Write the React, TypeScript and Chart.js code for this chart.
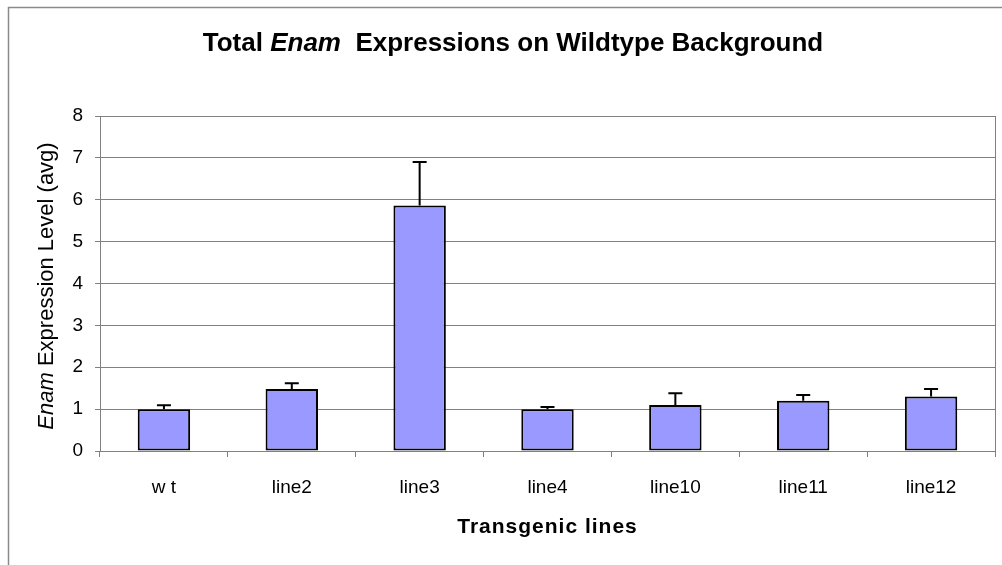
import React, { useEffect, useRef } from "react";
import { Chart, registerables } from "chart.js";

Chart.register(...registerables);

const categories = ["w t", "line2", "line3", "line4", "line10", "line11", "line12"];
const values = [1.0, 1.48, 5.86, 1.0, 1.1, 1.2, 1.3];
const errors = [0.09, 0.14, 1.04, 0.05, 0.28, 0.14, 0.18];
const yTicks = [0, 1, 2, 3, 4, 5, 6, 7, 8];

const FONT = "'Liberation Sans', Arial, sans-serif";

const decorPlugin = {
  id: "decor",
  beforeDraw(chart: any) {
    const ctx = chart.ctx;
    ctx.save();
    ctx.fillStyle = "#ffffff";
    ctx.fillRect(0, 0, chart.width, chart.height);
    ctx.strokeStyle = "#8a8a8a";
    ctx.lineWidth = 1.5;
    ctx.beginPath();
    ctx.moveTo(8.5, chart.height);
    ctx.lineTo(8.5, 7.5);
    ctx.lineTo(chart.width, 7.5);
    ctx.stroke();
    ctx.restore();
  },
  afterDatasetsDraw(chart: any) {
    const ctx = chart.ctx;
    const area = chart.chartArea;
    const meta = chart.getDatasetMeta(0);
    const yScale = chart.scales.y;
    ctx.save();
    // plot right border
    ctx.strokeStyle = "#808080";
    ctx.lineWidth = 1;
    ctx.beginPath();
    ctx.moveTo(Math.round(area.right) + 0.5, area.top);
    ctx.lineTo(Math.round(area.right) + 0.5, area.bottom);
    ctx.stroke();
    // error bars
    ctx.strokeStyle = "#000000";
    ctx.lineWidth = 2;
    meta.data.forEach((bar: any, i: number) => {
      const x = bar.x;
      const y0 = yScale.getPixelForValue(values[i]);
      const y1 = yScale.getPixelForValue(values[i] + errors[i]);
      ctx.beginPath();
      ctx.moveTo(x, y0);
      ctx.lineTo(x, y1);
      ctx.moveTo(x - 7, y1);
      ctx.lineTo(x + 7, y1);
      ctx.stroke();
    });
    ctx.restore();
  },
  afterDraw(chart: any) {
    const ctx = chart.ctx;
    const area = chart.chartArea;
    ctx.save();
    ctx.fillStyle = "#000000";
    // title
    const parts = [
      { t: "Total ", f: `bold 26px ${FONT}` },
      { t: "Enam", f: `italic bold 26px ${FONT}` },
      { t: "  Expressions on Wildtype Background", f: `bold 26px ${FONT}` },
    ];
    let total = 0;
    parts.forEach((p) => {
      ctx.font = p.f;
      total += ctx.measureText(p.t).width;
    });
    let x = 513 - total / 2;
    ctx.textBaseline = "alphabetic";
    ctx.textAlign = "left";
    parts.forEach((p) => {
      ctx.font = p.f;
      ctx.fillText(p.t, x, 51);
      x += ctx.measureText(p.t).width;
    });
    // x axis title
    ctx.font = `bold 21px ${FONT}`;
    (ctx as any).letterSpacing = "1px";
    ctx.textAlign = "center";
    ctx.fillText("Transgenic lines", (area.left + area.right) / 2, 533);
    (ctx as any).letterSpacing = "0px";
    // y axis title
    const yparts = [
      { t: "Enam", f: `italic 22px ${FONT}` },
      { t: " Expression Level (avg)", f: `22px ${FONT}` },
    ];
    let ytotal = 0;
    yparts.forEach((p) => {
      ctx.font = p.f;
      ytotal += ctx.measureText(p.t).width;
    });
    ctx.translate(53, 286);
    ctx.rotate(-Math.PI / 2);
    ctx.textAlign = "left";
    let yx = -ytotal / 2;
    yparts.forEach((p) => {
      ctx.font = p.f;
      ctx.fillText(p.t, yx, 0);
      yx += ctx.measureText(p.t).width;
    });
    ctx.restore();
  },
};

export default function App() {
  const ref = useRef<HTMLCanvasElement | null>(null);
  useEffect(() => {
    if (!ref.current) return;
    const chart = new Chart(ref.current, {
      type: "bar",
      data: {
        labels: categories,
        datasets: [
          {
            data: values,
            backgroundColor: "#9999ff",
            borderColor: "#000000",
            borderWidth: 2,
            borderSkipped: false,
            barPercentage: 0.41,
            categoryPercentage: 1,
          },
        ],
      },
      options: {
        responsive: false,
        animation: false,
        events: [],
        layout: { padding: { left: 0, top: 116, right: 7, bottom: 0 } },
        plugins: {
          legend: { display: false },
          title: { display: false },
          tooltip: { enabled: false },
        },
        scales: {
          x: {
            afterFit: (s: any) => {
              s.height = 114;
            },
            grid: {
              drawOnChartArea: false,
              drawTicks: true,
              tickLength: 6,
              color: "#808080",
              offset: true,
            },
            border: { display: true, color: "#808080", width: 1 },
            ticks: {
              color: "#000000",
              padding: 19,
              font: { family: FONT, size: 19 },
              maxRotation: 0,
            },
          },
          y: {
            min: 0,
            max: 8,
            afterFit: (s: any) => {
              s.width = 100;
            },
            afterBuildTicks: (s: any) => {
              s.ticks = yTicks.map((v) => ({ value: v }));
            },
            grid: {
              color: "#808080",
              lineWidth: 1,
              tickLength: 5,
              drawTicks: true,
            },
            border: { display: true, color: "#808080", width: 1 },
            ticks: {
              color: "#000000",
              padding: 12,
              font: { family: FONT, size: 19 },
            },
          },
        },
      },
      plugins: [decorPlugin],
    });
    return () => chart.destroy();
  }, []);
  return (
    <div style={{ position: "absolute", left: 0, top: 0, width: 1002, height: 565 }}>
      <canvas ref={ref} width={1002} height={565} style={{ display: "block", width: 1002, height: 565 }} />
    </div>
  );
}
